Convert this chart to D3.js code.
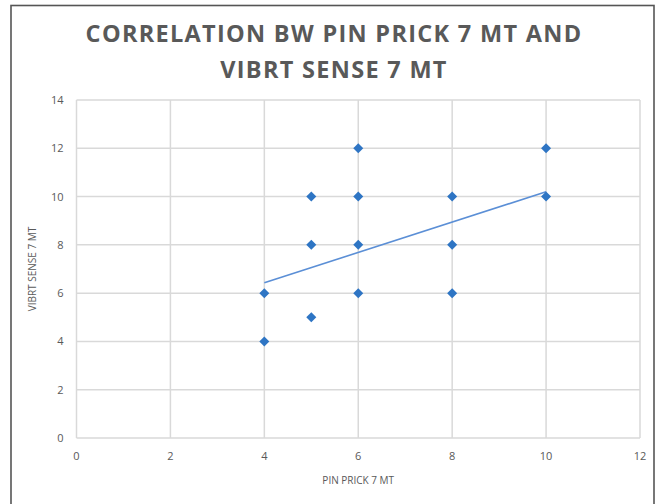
<!DOCTYPE html>
<html><head><meta charset="utf-8">
<script src="https://cdn.jsdelivr.net/npm/d3@7"></script>
<style>body{margin:0;background:#fff}svg{display:block}</style>
</head><body>
<script>
const titleLines = ["CORRELATION BW PIN PRICK 7 MT AND", "VIBRT SENSE 7 MT"];
const xLabel = "PIN PRICK 7 MT";
const yLabel = "VIBRT SENSE 7 MT";
const xTicks = [0, 2, 4, 6, 8, 10, 12];
const yTicks = [0, 2, 4, 6, 8, 10, 12, 14];
const pinPrick = [4, 4, 5, 5, 5, 6, 6, 6, 6, 8, 8, 8, 10, 10];
const vibrtSense = [4, 6, 5, 8, 10, 6, 8, 10, 12, 6, 8, 10, 10, 12];
const trendX = [4, 10];
const trendY = [6.43, 10.2];

const W = 659, H = 504;
const svg = d3.select("body").append("svg").attr("width", W).attr("height", H);
svg.append("rect").attr("x", 11).attr("y", 5.5).attr("width", 643).attr("height", 510)
  .attr("fill", "#fff").attr("stroke", "#555").attr("stroke-width", 1.6);

const x = d3.scaleLinear().domain([0, 12]).range([76.5, 640]);
const y = d3.scaleLinear().domain([0, 14]).range([438, 100]);

const g = svg.append("g");
g.selectAll(".hg").data(yTicks).join("line")
  .attr("x1", x(0)).attr("x2", x(12)).attr("y1", d => y(d)).attr("y2", d => y(d))
  .attr("stroke", "#d9d9d9").attr("stroke-width", 1.5);
g.selectAll(".vg").data(xTicks).join("line")
  .attr("y1", y(0)).attr("y2", y(14)).attr("x1", d => x(d)).attr("x2", d => x(d))
  .attr("stroke", "#d9d9d9").attr("stroke-width", 1.5);

const font = "'Open Sans', 'Liberation Sans', sans-serif";
const tc = "#595959";
g.selectAll(".xt").data(xTicks).join("text")
  .attr("x", d => x(d)).attr("y", y(0) + 22).attr("text-anchor", "middle")
  .attr("font-family", font).attr("font-size", 11).attr("fill", tc).text(d => d);
g.selectAll(".yt").data(yTicks).join("text")
  .attr("x", x(0) - 13).attr("y", d => y(d) + 4).attr("text-anchor", "end")
  .attr("font-family", font).attr("font-size", 11).attr("fill", tc).text(d => d);

svg.append("text").attr("x", x(6)).attr("y", 484).attr("text-anchor", "middle")
  .attr("font-family", font).attr("font-size", 10).attr("fill", tc).text(xLabel);
svg.append("text").attr("transform", `translate(36,${y(7)}) rotate(-90)`).attr("text-anchor", "middle")
  .attr("font-family", font).attr("font-size", 10).attr("fill", tc).text(yLabel);

svg.selectAll(".title").data(titleLines).join("text")
  .attr("x", 334).attr("y", (d, i) => 42 + i * 36).attr("text-anchor", "middle")
  .attr("font-family", font).attr("font-weight", "bold").attr("font-size", 23.5)
  .attr("letter-spacing", 1.3).attr("fill", tc).text(d => d);

const line = d3.line().x(d => x(d[0])).y(d => y(d[1]));
svg.append("path").datum(trendX.map((v, i) => [v, trendY[i]])).attr("d", line)
  .attr("fill", "none").attr("stroke", "#5b8fd6").attr("stroke-width", 1.6);

const pts = pinPrick.map((v, i) => [v, vibrtSense[i]]);
svg.selectAll(".pt").data(pts).join("path")
  .attr("d", d3.symbol(d3.symbolDiamond2, 64))
  .attr("transform", d => `translate(${x(d[0])},${y(d[1])})`)
  .attr("fill", "#2e75c4");
</script>
</body></html>
